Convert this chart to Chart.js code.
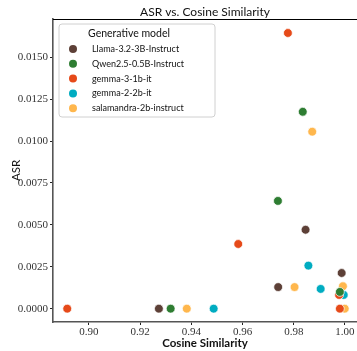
<!DOCTYPE html>
<html>
<head>
<meta charset="utf-8">
<script src="https://cdn.jsdelivr.net/npm/chart.js@4.4.1/dist/chart.umd.min.js"></script>
<style>
  html, body { margin: 0; overflow: hidden; background: #fff; }
  #wrap { width: 357px; height: 351px; }
</style>
</head>
<body>
<div id="wrap"><canvas id="asrChart"></canvas></div>
<script>
const modelNames = ["Llama-3.2-3B-Instruct", "Qwen2.5-0.5B-Instruct", "gemma-3-1b-it", "gemma-2-2b-it", "salamandra-2b-instruct"];
const modelColors = ["#5d4037", "#2e7d32", "#e64a19", "#00acc1", "#ffb74d"];
const chartTitle = "ASR vs. Cosine Similarity";

const llamaCos = [0.9846, 0.9739, 0.9273, 0.9987];
const llamaAsr = [0.00471, 0.00129, 0.0, 0.00213];
const qwenCos = [0.9835, 0.9738, 0.9319, 0.9980];
const qwenAsr = [0.01175, 0.00643, 0.0, 0.00100];
const gemma3Cos = [0.9777, 0.9583, 0.8915, 0.9977, 0.9980];
const gemma3Asr = [0.01645, 0.00386, 0.0, 0.00082, 0.0];
const gemma2Cos = [0.9857, 0.9905, 0.9487, 0.9995];
const gemma2Asr = [0.00257, 0.00118, 0.0, 0.00082];
const salamandraCos = [0.9872, 0.9803, 0.9382, 0.9992, 0.9999];
const salamandraAsr = [0.01056, 0.00129, 0.0, 0.00134, 0.0];

const cosSeries = [llamaCos, qwenCos, gemma3Cos, gemma2Cos, salamandraCos];
const asrSeries = [llamaAsr, qwenAsr, gemma3Asr, gemma2Asr, salamandraAsr];

function toPoints(xs, ys) {
  return xs.map(function (x, i) { return { x: x, y: ys[i] }; });
}

const datasets = modelNames.map(function (name, i) {
  return {
    label: name,
    data: toPoints(cosSeries[i], asrSeries[i]),
    backgroundColor: modelColors[i],
    borderColor: "#ffffff",
    borderWidth: 0.7,
    pointRadius: 4.4,
    pointHoverRadius: 4.4
  };
});

// legend box drawn inside the plot, top-left, like the matplotlib one
const legendBox = {
  id: "legendBox",
  afterDraw(chart) {
    const ctx = chart.ctx;
    const area = chart.chartArea;
    const x0 = area.left + 6, y0 = area.top + 5, w = 156, h = 93, r = 3;
    ctx.save();
    ctx.beginPath();
    ctx.moveTo(x0 + r, y0);
    ctx.arcTo(x0 + w, y0, x0 + w, y0 + h, r);
    ctx.arcTo(x0 + w, y0 + h, x0, y0 + h, r);
    ctx.arcTo(x0, y0 + h, x0, y0, r);
    ctx.arcTo(x0, y0, x0 + w, y0, r);
    ctx.closePath();
    ctx.fillStyle = "rgba(255,255,255,0.85)";
    ctx.fill();
    ctx.strokeStyle = "#d0d0d0";
    ctx.lineWidth = 1;
    ctx.stroke();

    ctx.fillStyle = "#111";
    ctx.textBaseline = "middle";
    ctx.textAlign = "center";
    ctx.font = "10.5px Lato";
    ctx.fillText("Generative model", x0 + 70, y0 + 9.5);

    ctx.textAlign = "left";
    ctx.font = "9px Lato";
    chart.data.datasets.forEach(function (ds, i) {
      const y = y0 + 25 + i * 14.8;
      ctx.beginPath();
      ctx.arc(x0 + 14, y, 4, 0, Math.PI * 2);
      ctx.fillStyle = ds.backgroundColor;
      ctx.fill();
      ctx.fillStyle = "#111";
      ctx.fillText(ds.label, x0 + 33, y);
    });
    ctx.restore();
  }
};

// top spine plus the title centred over the axes (the axes run off the right edge)
const frameAndTitle = {
  id: "frameAndTitle",
  afterDraw(chart) {
    const ctx = chart.ctx;
    const area = chart.chartArea;
    ctx.save();
    ctx.strokeStyle = "#000";
    ctx.lineWidth = 1;
    ctx.beginPath();
    ctx.moveTo(area.left, area.top + 0.5);
    ctx.lineTo(area.right, area.top + 0.5);
    ctx.stroke();

    ctx.fillStyle = "#111";
    ctx.font = "12px Lato";
    ctx.textAlign = "center";
    ctx.textBaseline = "middle";
    ctx.fillText(chartTitle, 205, 11.8);
    ctx.restore();
  }
};

const tickFont = { family: "'Liberation Serif', serif", size: 11 };

new Chart(document.getElementById("asrChart").getContext("2d"), {
  type: "scatter",
  data: { datasets: datasets },
  plugins: [legendBox, frameAndTitle],
  options: {
    responsive: true,
    maintainAspectRatio: false,
    animation: false,
    devicePixelRatio: 1,
    layout: { autoPadding: false, padding: { left: 0, top: 19, bottom: 0, right: 0 } },
    plugins: {
      legend: { display: false },
      tooltip: { enabled: false },
      title: { display: false }
    },
    scales: {
      x: {
        type: "linear",
        min: 0.88594,
        max: 1.00469,
        afterFit: function (scale) {
          scale.height = 29;
          scale.paddingLeft = 0;
          scale.paddingRight = 0;
        },
        ticks: {
          stepSize: 0.02,
          includeBounds: false,
          color: "#333",
          font: tickFont,
          padding: 1,
          maxRotation: 0,
          callback: function (v) { return v.toFixed(2); }
        },
        grid: { drawOnChartArea: false, drawTicks: true, tickLength: 3, color: "#222" },
        border: { color: "#555", width: 1.6 },
        title: {
          display: true,
          text: "Cosine Similarity",
          color: "#111",
          font: { family: "Lato", size: 11.5, weight: "bold", lineHeight: 1.2 },
          padding: { top: 0, bottom: 1.1 }
        }
      },
      y: {
        min: -0.000794,
        max: 0.017285,
        afterFit: function (scale) {
          scale.width = 53;
          scale.paddingTop = 0;
          scale.paddingBottom = 0;
        },
        ticks: {
          stepSize: 0.0025,
          includeBounds: false,
          color: "#333",
          font: tickFont,
          padding: 2,
          callback: function (v) { return v.toFixed(4); }
        },
        grid: { drawOnChartArea: false, drawTicks: true, tickLength: 3, color: "#222" },
        border: { color: "#555", width: 1.6 },
        title: {
          display: true,
          text: "ASR",
          color: "#111",
          font: { family: "Lato", size: 11.5, weight: "normal", lineHeight: 1.2 },
          padding: { top: 9.5, bottom: 0 }
        }
      }
    }
  }
});
</script>
</body>
</html>
